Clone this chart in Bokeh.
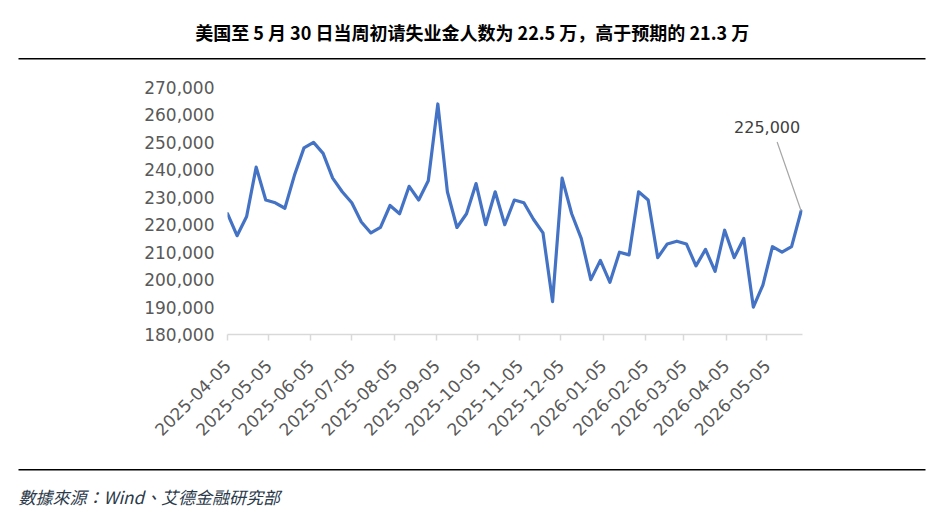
import math
import pandas as pd
from bokeh.plotting import figure
from bokeh.layouts import column
from bokeh.models import (Range1d, FixedTicker, DatetimeTickFormatter, NumeralTickFormatter,
                          Label, ColumnDataSource)
from bokeh.core.properties import value
from bokeh.embed import file_html
from bokeh.resources import INLINE

# ---------------- data ----------------
title_text = "美国至 5 月 30 日当周初请失业金人数为 22.5 万，高于预期的 21.3 万"
source_text = "數據來源：Wind、艾德金融研究部"

first_week = "2025-04-05"   # weekly (Saturday week-ending) series
claims = [
    224000, 216000, 223000, 241000, 229000, 228000, 226000, 238000, 248000, 250000,
    246000, 237000, 232000, 228000, 221000, 217000, 219000, 227000, 224000, 234000,
    229000, 236000, 264000, 232000, 219000, 224000, 235000, 220000, 232000, 220000,
    229000, 228000, 222000, 217000, 192000, 237000, 224000, 215000, 200000, 207000,
    199000, 210000, 209000, 232000, 229000, 208000, 213000, 214000, 213000, 205000,
    211000, 203000, 218000, 208000, 215000, 190000, 198000, 212000, 210000, 212000,
    225000,
]
week_dates = pd.date_range(first_week, periods=len(claims), freq="7D")

x_tick_labels = [
    "2025-04-05", "2025-05-05", "2025-06-05", "2025-07-05", "2025-08-05",
    "2025-09-05", "2025-10-05", "2025-11-05", "2025-12-05", "2026-01-05",
    "2026-02-05", "2026-03-05", "2026-04-05", "2026-05-05",
]
y_ticks = [180000, 190000, 200000, 210000, 220000, 230000, 240000, 250000, 260000, 270000]
x_start, x_end = "2025-04-05", "2026-05-31"


def ms(d):
    return pd.Timestamp(d).value // 10**6


W = 939
HEAD_H, MAIN_H, FOOT_H = 65, 395, 71


def blank_fig(h):
    f = figure(width=W, height=h, x_range=Range1d(0, W), y_range=Range1d(0, h),
               output_backend="svg", toolbar_location=None,
               x_axis_location=None, y_axis_location=None,
               min_border=0, frame_align=False)
    f.outline_line_color = None
    f.xgrid.visible = False
    f.ygrid.visible = False
    f.background_fill_color = "white"
    f.border_fill_color = "white"
    return f


# ---------------- header ----------------
head = blank_fig(HEAD_H)
head.text(x=[471.7], y=[HEAD_H - 31], text=[title_text], text_align="center",
          text_baseline="middle", text_font=value("Noto Sans CJK SC"),
          text_font_size=value("18px"), text_font_style="bold", text_color="#000000")
head.line(x=[18, 925], y=[HEAD_H - 58.3] * 2, line_color="#000000", line_width=1.5)

# ---------------- main chart ----------------
FRAME_W, FRAME_H = 575, 247
src = ColumnDataSource(dict(date=week_dates, claims=claims))
p = figure(width=W, height=MAIN_H, x_axis_type="datetime", output_backend="svg",
           toolbar_location=None, frame_align=False,
           x_range=Range1d(ms(x_start), ms(x_end)),
           y_range=Range1d(y_ticks[0], y_ticks[-1]),
           min_border_left=227, min_border_right=W - 227 - FRAME_W,
           min_border_top=22, min_border_bottom=MAIN_H - 22 - FRAME_H)
p.outline_line_color = None
p.background_fill_color = "white"
p.border_fill_color = "white"
p.xgrid.visible = False
p.ygrid.visible = False

p.line("date", "claims", source=src, line_color="#4472C4", line_width=3.2,
       line_join="round", line_cap="round")

tick_font = "DejaVu Sans"
tick_color = "#595959"

p.xaxis.ticker = FixedTicker(ticks=[ms(t) for t in x_tick_labels])
fmt = "%Y-%m-%d"
p.xaxis.formatter = DatetimeTickFormatter(
    microseconds=fmt, milliseconds=fmt, seconds=fmt, minsec=fmt, minutes=fmt,
    hourmin=fmt, hours=fmt, days=fmt, months=fmt, years=fmt)
p.xaxis.major_label_orientation = math.pi / 4
p.xaxis.axis_line_color = "#D9D9D9"
p.xaxis.axis_line_width = 1.5
p.xaxis.major_tick_line_color = "#D9D9D9"
p.xaxis.major_tick_line_width = 1.5
p.xaxis.major_tick_out = 6
p.xaxis.major_tick_in = 0
p.xaxis.minor_tick_line_color = None
p.xaxis.major_label_standoff = 22
p.xaxis.major_label_text_font = tick_font
p.xaxis.major_label_text_font_size = "17px"
p.xaxis.major_label_text_color = tick_color

p.yaxis.ticker = FixedTicker(ticks=y_ticks)
p.yaxis.formatter = NumeralTickFormatter(format="0,0")
p.yaxis.axis_line_color = None
p.yaxis.major_tick_line_color = None
p.yaxis.minor_tick_line_color = None
p.yaxis.major_tick_out = 0
p.yaxis.major_tick_in = 0
p.yaxis.major_label_standoff = 13
p.yaxis.major_label_text_font = tick_font
p.yaxis.major_label_text_font_size = "17px"
p.yaxis.major_label_text_color = tick_color

# last value annotation (offset in pixels from the last point) with leader line
px_per_ms = FRAME_W / (ms(x_end) - ms(x_start))
px_per_val = FRAME_H / (y_ticks[-1] - y_ticks[0])
lab_dx, lab_dy = -34, 84      # label centre offset, px
lead_dx, lead_dy = -24, 69    # leader top offset, px
last_x, last_y = ms(week_dates[-1]), claims[-1]
p.add_layout(Label(x=last_x, y=last_y, x_offset=lab_dx, y_offset=lab_dy,
                   text=f"{claims[-1]:,}", text_align="center", text_baseline="middle",
                   text_font=tick_font, text_font_size="16px", text_color="#404040"))
p.segment(x0=[last_x], y0=[last_y],
          x1=[last_x + lead_dx / px_per_ms], y1=[last_y + lead_dy / px_per_val],
          line_color="#A6A6A6", line_width=1.2)

# ---------------- footer ----------------
foot = blank_fig(FOOT_H)
foot.line(x=[18, 925], y=[FOOT_H - 9.3] * 2, line_color="#000000", line_width=1.5)
foot.text(x=[18], y=[FOOT_H - 36], text=[source_text], text_align="left",
          text_baseline="middle", text_font=value("Noto Sans CJK TC"),
          text_font_size=value("17px"), text_font_style="italic", text_color="#2B3A4A")

layout = column(head, p, foot, spacing=0)
open("out.html", "w").write(file_html(layout, INLINE))
